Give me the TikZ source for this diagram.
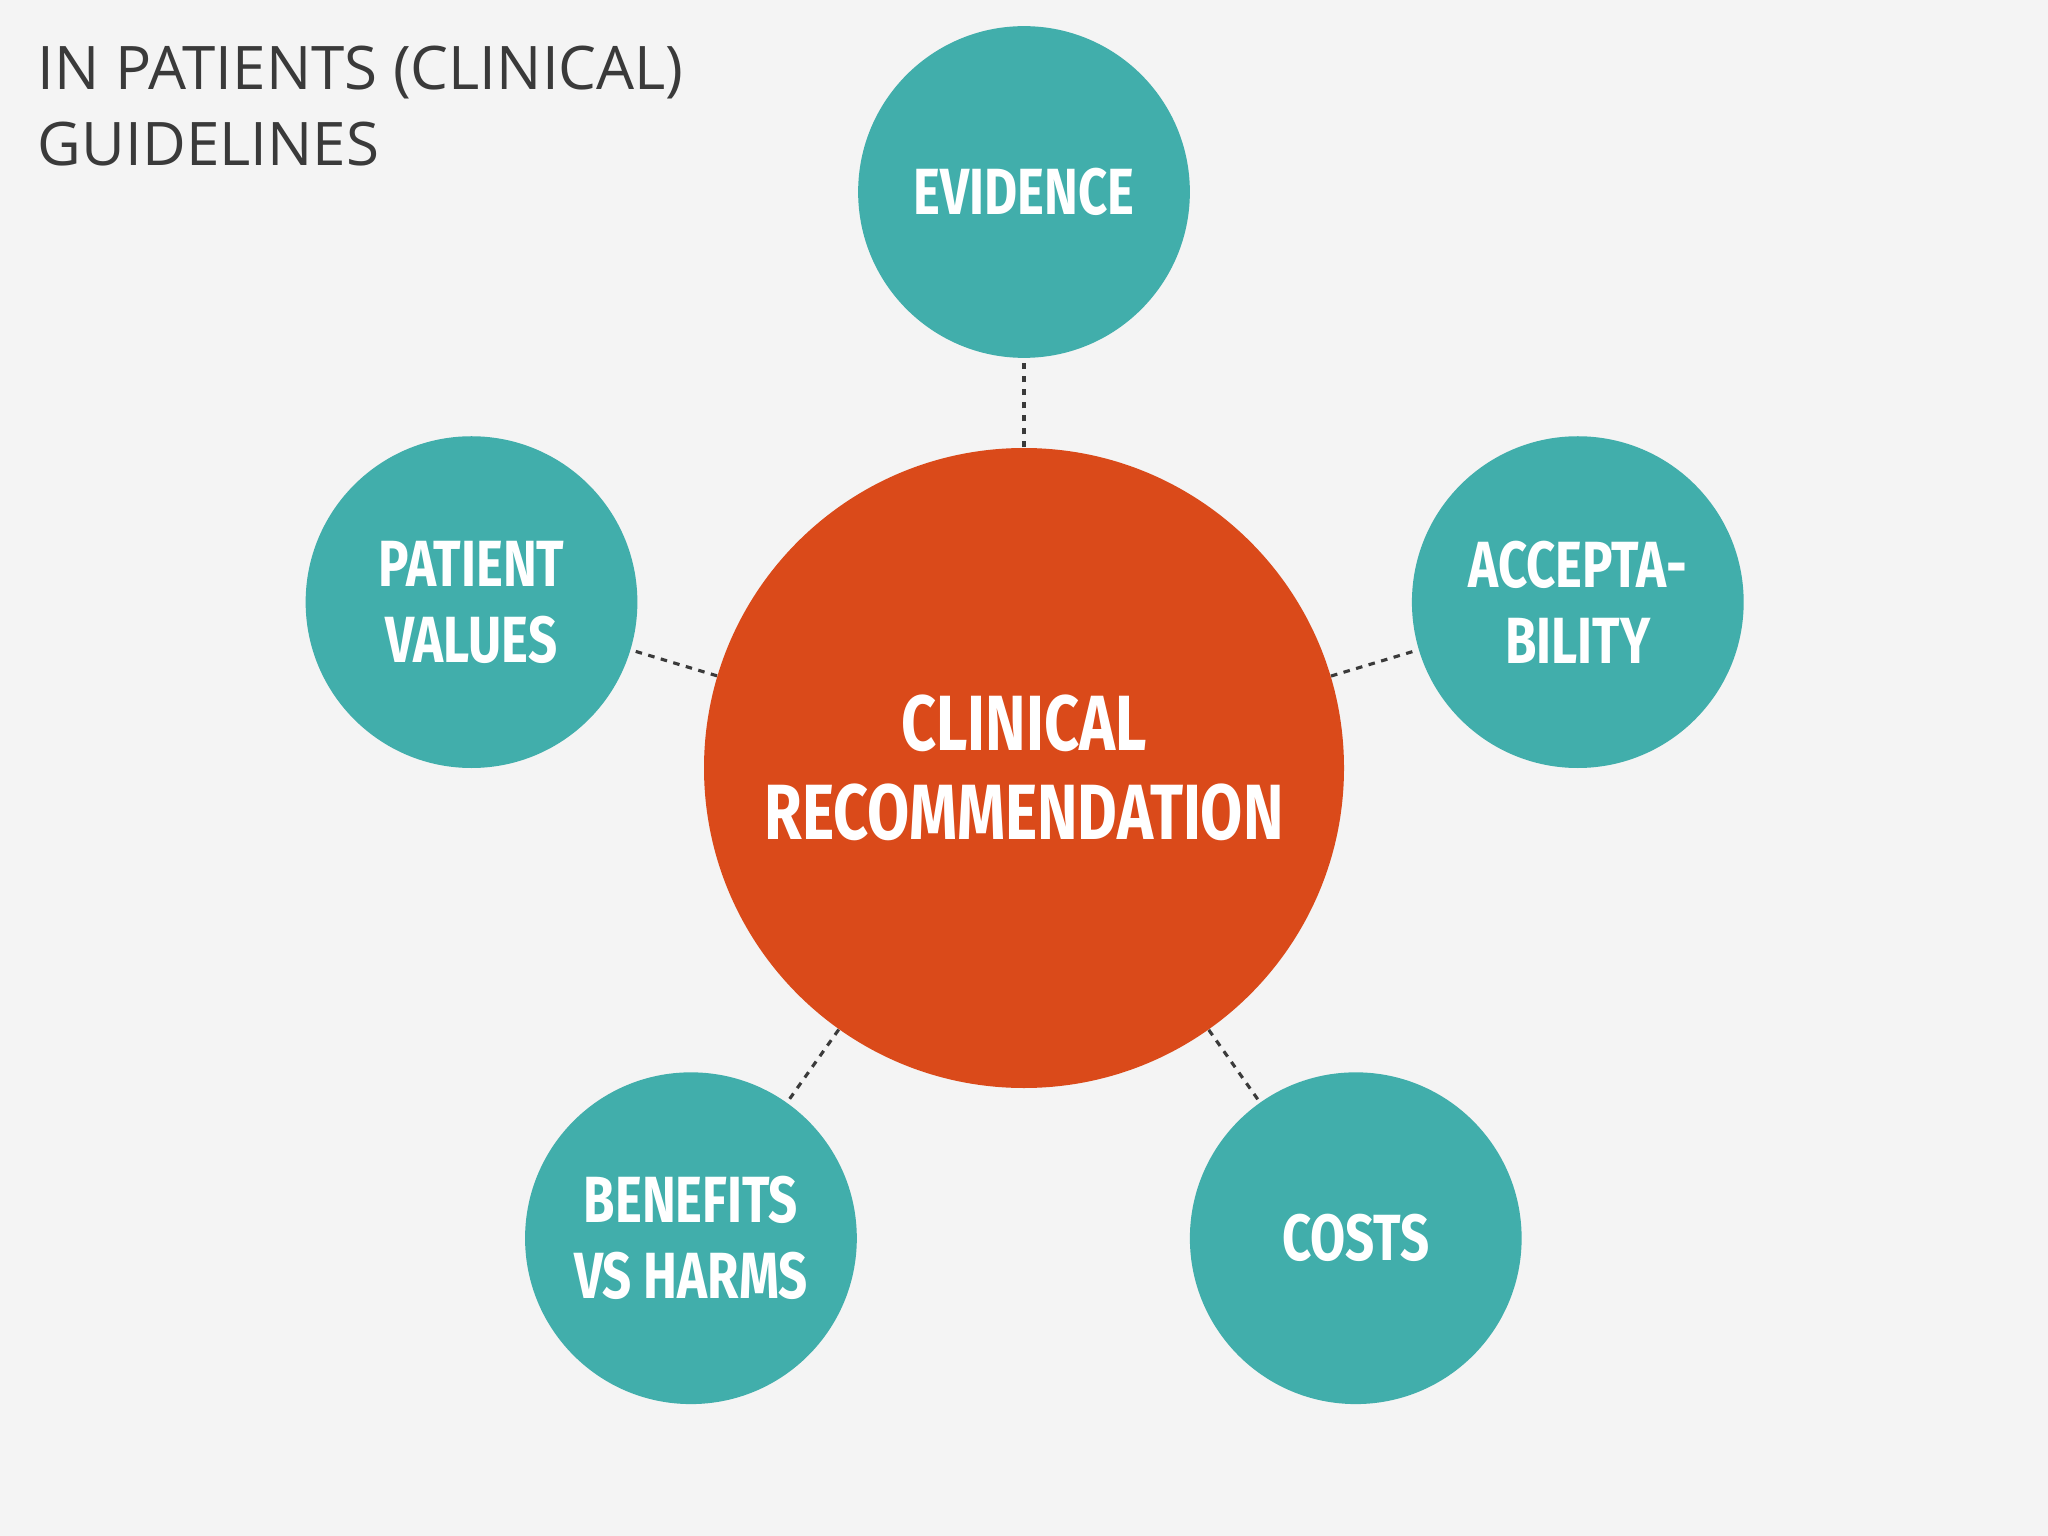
\documentclass[tikz,border=0pt]{standalone}
\usepackage{fontspec}
\setmainfont{Open Sans}
\newfontfamily\condfont[FakeStretch=0.78]{Fira Sans Bold}
\definecolor{bg}{HTML}{F4F4F4}
\definecolor{teal}{HTML}{41AEAB}
\definecolor{orng}{HTML}{DA4A1A}
\definecolor{ttl}{HTML}{3A3A3A}
\begin{document}
\begin{tikzpicture}[x=0.5pt,y=-0.5pt,
  small/.style={circle,fill=teal,minimum size=254*0.5pt,inner sep=0pt,text=white,align=center,font=\condfont\fontsize{25}{29}\selectfont},
  big/.style={circle,fill=orng,minimum size=490*0.5pt,inner sep=0pt,text=white,align=center,font=\condfont\fontsize{30}{34}\selectfont},
  link/.style={draw=ttl,dash pattern=on 2.5pt off 2.5pt,line width=1.2pt}]
\fill[bg] (0,0) rectangle (1568,1176);
\useasboundingbox (0,0) rectangle (1568,1176);
\node[anchor=north west,text=ttl,align=left,font=\fontsize{23}{29}\selectfont\addfontfeatures{}] (title) at (22,28) {IN PATIENTS (CLINICAL)\\GUIDELINES};
\node[big] (c) at (784,588) {CLINICAL\\RECOMMENDATION};
\node[small] (ev) at (784,147) {EVIDENCE};
\node[small] (pv) at (361,461) {PATIENT\\VALUES};
\node[small] (ac) at (1208,461) {ACCEPTA-\\BILITY};
\node[small] (bh) at (529,948) {BENEFITS\\VS HARMS};
\node[small] (co) at (1038,948) {COSTS};
\foreach \n in {ev,pv,ac,bh,co} \draw[link] (c) -- (\n);
\end{tikzpicture}
\end{document}
